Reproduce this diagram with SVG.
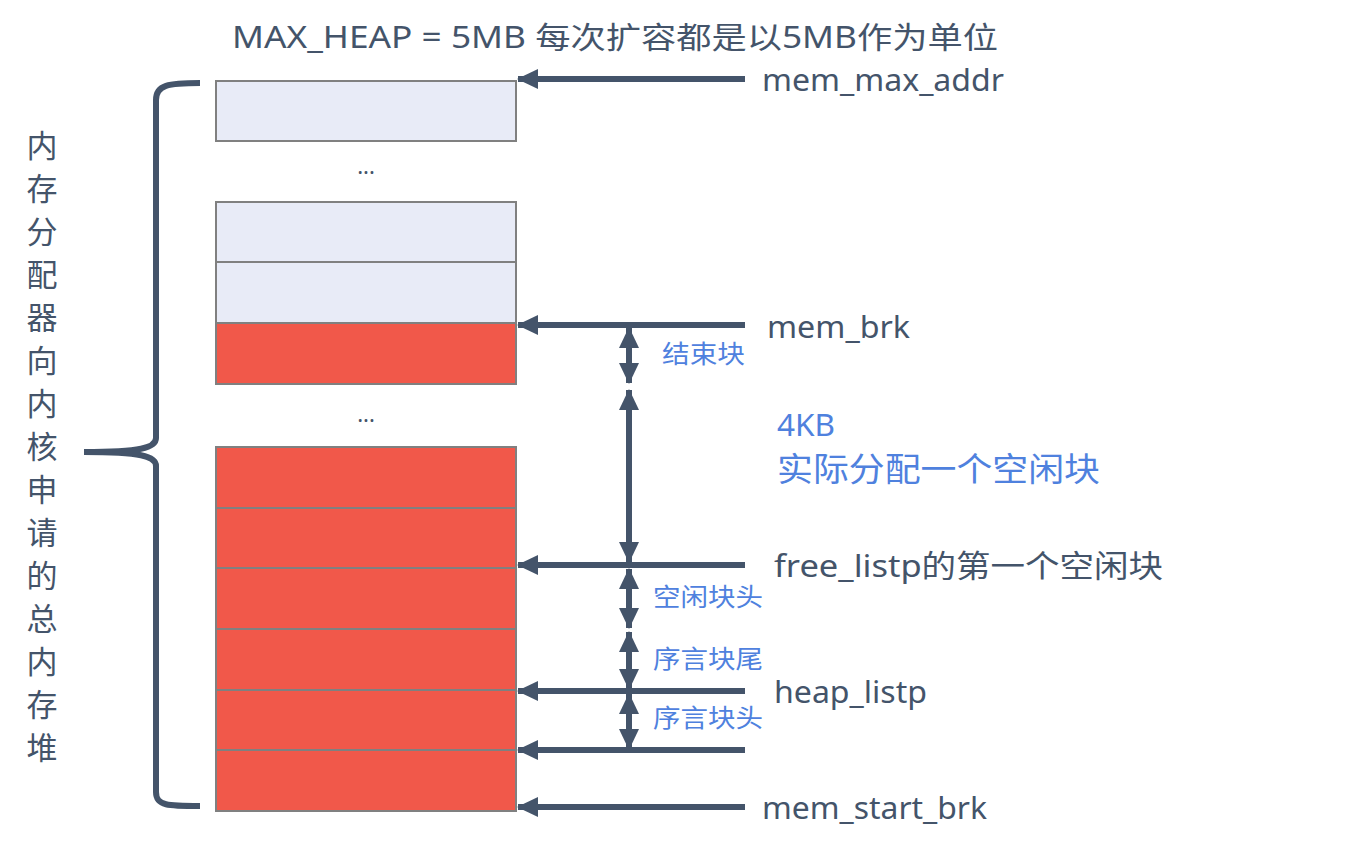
<svg xmlns="http://www.w3.org/2000/svg" width="1364" height="847" viewBox="0 0 1364 847">
<style>
.lt{fill:#e8ebf7;stroke:#808080;stroke-width:2}
.rd{fill:#f1584a;stroke:#808080;stroke-width:2}
.t{font-family:"Noto Sans","Noto Sans CJK SC",sans-serif;fill:#44546a}
.b{font-family:"Noto Sans","Noto Sans CJK SC",sans-serif;fill:#4f81de}
.ln{stroke:#44546a;stroke-width:6;fill:none}
</style>
<defs>
<marker id="ah" markerWidth="22" markerHeight="22" viewBox="0 0 22 22" refX="20" refY="11" orient="auto-start-reverse" markerUnits="userSpaceOnUse">
<path d="M0,1 L21,11 L0,21 Z" fill="#44546a"/>
</marker>
</defs>
<rect width="1364" height="847" fill="#ffffff"/>
<text class="t" x="232" y="48" font-size="30" textLength="766" lengthAdjust="spacingAndGlyphs">MAX_HEAP = 5MB 每次扩容都是以5MB作为单位</text>
<g id="brace"><path class="ln" d="M200,83 C168,83 156,85 156,100 L156,438 C156,448 140,452 84,452 C140,452 156,456 156,466 L156,792 C156,806 168,806 200,806"/></g>
<g id="side-label">
<text class="t" font-size="31" text-anchor="middle" x="42">
<tspan x="42" y="157">内</tspan><tspan x="42" y="200">存</tspan><tspan x="42" y="243">分</tspan><tspan x="42" y="286">配</tspan><tspan x="42" y="329">器</tspan><tspan x="42" y="372">向</tspan><tspan x="42" y="415">内</tspan><tspan x="42" y="458">核</tspan><tspan x="42" y="501">申</tspan><tspan x="42" y="544">请</tspan><tspan x="42" y="587">的</tspan><tspan x="42" y="630">总</tspan><tspan x="42" y="673">内</tspan><tspan x="42" y="716">存</tspan><tspan x="42" y="759">堆</tspan>
</text>
</g>
<g id="blocks">
<rect id="b-top" class="lt" x="216" y="81" width="300" height="60"/>
<text class="t" x="366" y="174" font-size="22" text-anchor="middle">...</text>
<rect id="b1" class="lt" x="216" y="202" width="300" height="60"/>
<rect id="b2" class="lt" x="216" y="262" width="300" height="61"/>
<rect id="b3" class="rd" x="216" y="323" width="300" height="61"/>
<text class="t" x="366" y="422" font-size="22" text-anchor="middle">...</text>
<rect id="r1" class="rd" x="216" y="447" width="300" height="61"/>
<rect id="r2" class="rd" x="216" y="508" width="300" height="60"/>
<rect id="r3" class="rd" x="216" y="568" width="300" height="61"/>
<rect id="r4" class="rd" x="216" y="629" width="300" height="61"/>
<rect id="r5" class="rd" x="216" y="690" width="300" height="60"/>
<rect id="r6" class="rd" x="216" y="750" width="300" height="61"/>
</g>
<g id="connectors">
<line class="ln" x1="745" y1="79" x2="518" y2="79" marker-end="url(#ah)"/>
<line class="ln" x1="745" y1="325" x2="518" y2="325" marker-end="url(#ah)"/>
<line class="ln" x1="745" y1="565" x2="518" y2="565" marker-end="url(#ah)"/>
<line class="ln" x1="745" y1="691" x2="518" y2="691" marker-end="url(#ah)"/>
<line class="ln" x1="745" y1="750" x2="518" y2="750" marker-end="url(#ah)"/>
<line class="ln" x1="745" y1="807" x2="518" y2="807" marker-end="url(#ah)"/>
<line class="ln" x1="629" y1="328" x2="629" y2="383" marker-start="url(#ah)" marker-end="url(#ah)"/>
<line class="ln" x1="629" y1="390" x2="629" y2="562" marker-start="url(#ah)" marker-end="url(#ah)"/>
<line class="ln" x1="629" y1="569" x2="629" y2="628" marker-start="url(#ah)" marker-end="url(#ah)"/>
<line class="ln" x1="629" y1="632" x2="629" y2="689" marker-start="url(#ah)" marker-end="url(#ah)"/>
<line class="ln" x1="629" y1="694" x2="629" y2="749" marker-start="url(#ah)" marker-end="url(#ah)"/>
</g>
<g id="labels">
<text class="t" x="762" y="91" font-size="31" textLength="242" lengthAdjust="spacingAndGlyphs">mem_max_addr</text>
<text class="t" x="767" y="338" font-size="31" textLength="143" lengthAdjust="spacingAndGlyphs">mem_brk</text>
<text class="t" x="774" y="577" font-size="31" textLength="389" lengthAdjust="spacingAndGlyphs">free_listp的第一个空闲块</text>
<text class="t" x="774" y="703" font-size="31" textLength="153" lengthAdjust="spacingAndGlyphs">heap_listp</text>
<text class="t" x="762" y="819" font-size="31" textLength="225" lengthAdjust="spacingAndGlyphs">mem_start_brk</text>
<text class="b" x="662" y="363" font-size="25" textLength="83" lengthAdjust="spacingAndGlyphs">结束块</text>
<text class="b" x="777" y="436" font-size="31" textLength="58" lengthAdjust="spacingAndGlyphs">4KB</text>
<text class="b" x="777" y="481" font-size="33" textLength="323" lengthAdjust="spacingAndGlyphs">实际分配一个空闲块</text>
<text class="b" x="653" y="606" font-size="25" textLength="110" lengthAdjust="spacingAndGlyphs">空闲块头</text>
<text class="b" x="653" y="668" font-size="25" textLength="110" lengthAdjust="spacingAndGlyphs">序言块尾</text>
<text class="b" x="653" y="727" font-size="25" textLength="110" lengthAdjust="spacingAndGlyphs">序言块头</text>
</g>
</svg>
